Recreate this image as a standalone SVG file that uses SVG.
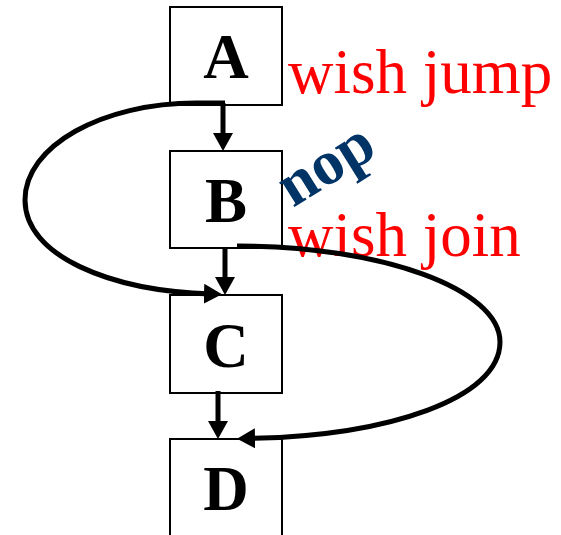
<svg xmlns="http://www.w3.org/2000/svg" width="561" height="535" viewBox="0 0 561 535">
<style>
.box{fill:#fff;stroke:#000;stroke-width:2}
.lbl{font-family:"Liberation Serif","Times New Roman",serif;font-weight:bold;font-size:63px;fill:#000;text-anchor:middle}
.note{font-family:"Liberation Serif","Times New Roman",serif;font-size:63px;fill:#ff0000}
.nop{font-family:"Liberation Serif","Times New Roman",serif;font-weight:bold;font-size:63px;fill:#003366}
.edge{fill:none;stroke:#000;stroke-width:5}
</style>
<defs>
<marker id="ah" markerWidth="20" markerHeight="20" refX="8" refY="10" orient="auto" markerUnits="userSpaceOnUse">
<path d="M0,0 L18,10 L0,20 Z" fill="#000"/>
</marker>
</defs>
<rect width="561" height="535" fill="#fff"/>
<g id="A"><rect class="box" x="170" y="7" width="112" height="98"/><text class="lbl" x="226" y="78">A</text></g>
<g id="B"><rect class="box" x="170" y="151" width="112" height="97"/><text class="lbl" x="226" y="222">B</text></g>
<g id="C"><rect class="box" x="170" y="295" width="112" height="98"/><text class="lbl" x="226" y="367">C</text></g>
<g id="D"><rect class="box" x="170" y="439" width="112" height="110"/><text class="lbl" x="226" y="510">D</text></g>
<g id="labels">
<text class="note" x="288" y="93">wish jump</text>
<text class="nop" transform="translate(293,208) rotate(-32)">nop</text>
<text class="note" x="288" y="256">wish join</text>
</g>
<g id="connectors">
<path class="edge" d="M223,103 L223,141" marker-end="url(#ah)"/>
<path class="edge" d="M225,248 L225,285" marker-end="url(#ah)"/>
<path class="edge" d="M218,391 L218,429" marker-end="url(#ah)"/>
<path class="edge" d="M225,103 L196,103 C102,103 25,146 25,200 C25,256 110,291 212,294" marker-end="url(#ah)"/>
<path class="edge" d="M237,246 C382,246 500,289 500,342 C500,398 390,436 247,438.5" marker-end="url(#ah)"/>
</g>
</svg>
